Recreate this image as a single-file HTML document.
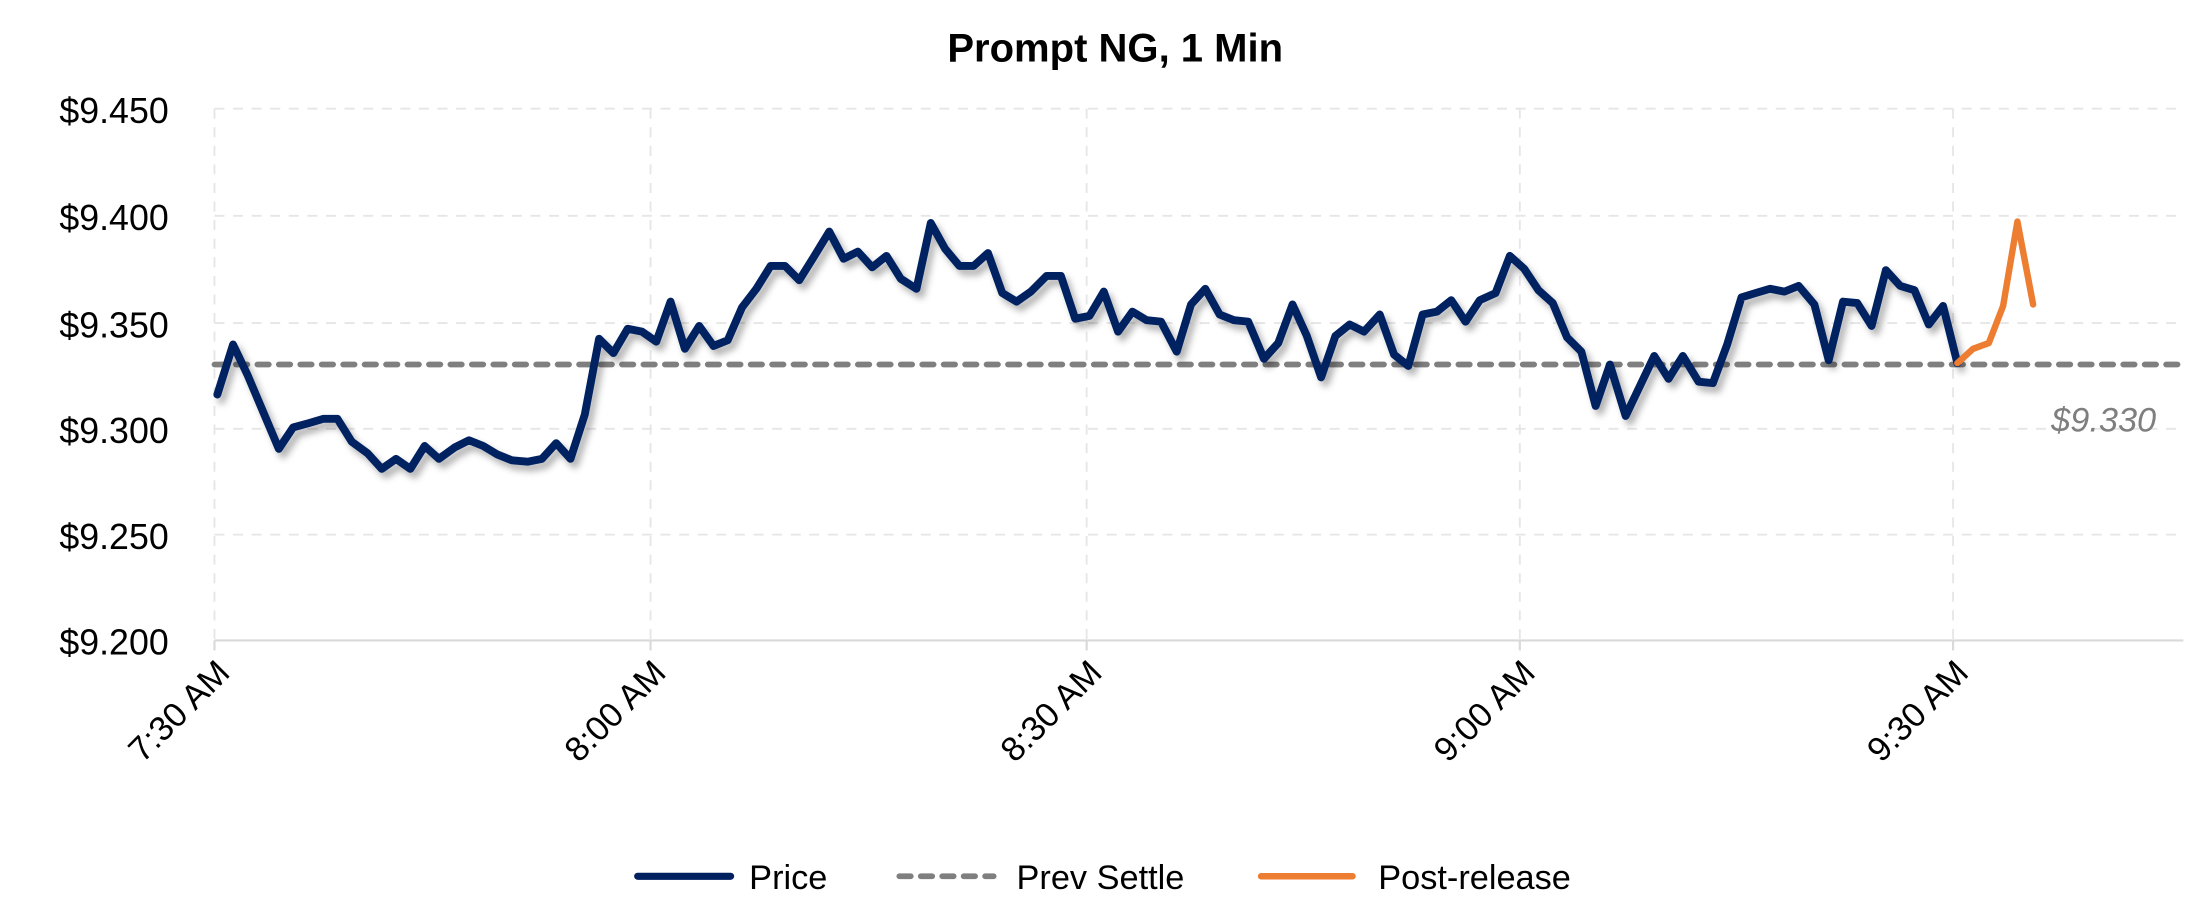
<!DOCTYPE html>
<html><head><meta charset="utf-8"><style>
html,body{margin:0;padding:0;background:#fff;}
svg{display:block;}
text{font-family:"Liberation Sans",sans-serif;}
</style></head><body>
<svg width="2209" height="902" viewBox="0 0 1545 631" preserveAspectRatio="none" xmlns="http://www.w3.org/2000/svg">
<defs>
<filter id="sh" x="-5%" y="-20%" width="110%" height="140%"><feDropShadow dx="3" dy="4" stdDeviation="2.5" flood-color="#000" flood-opacity="0.3"/></filter>
</defs>
<text x="780" y="43" text-anchor="middle" font-size="28" font-weight="bold">Prompt NG, 1 Min</text>
<g stroke="#e6e6e6" stroke-width="1.3" stroke-dasharray="7,6" fill="none">
<line x1="150" y1="76" x2="1527" y2="76"/>
<line x1="150" y1="151" x2="1527" y2="151"/>
<line x1="150" y1="226" x2="1527" y2="226"/>
<line x1="150" y1="300" x2="1527" y2="300"/>
<line x1="150" y1="374" x2="1527" y2="374"/>
<line x1="150" y1="76" x2="150" y2="448"/>
<line x1="455" y1="76" x2="455" y2="448"/>
<line x1="760" y1="76" x2="760" y2="448"/>
<line x1="1063" y1="76" x2="1063" y2="448"/>
<line x1="1366" y1="76" x2="1366" y2="448"/>
</g>
<line x1="150" y1="448" x2="1527" y2="448" stroke="#d9d9d9" stroke-width="1.5"/>
<g stroke="#d9d9d9" stroke-width="1.5">
<line x1="150" y1="448" x2="150" y2="455"/><line x1="455" y1="448" x2="455" y2="455"/><line x1="760" y1="448" x2="760" y2="455"/><line x1="1063" y1="448" x2="1063" y2="455"/><line x1="1366" y1="448" x2="1366" y2="455"/>
</g>
<g font-size="25" text-anchor="end" fill="#000">
<text x="118" y="86">$9.450</text>
<text x="118" y="161">$9.400</text>
<text x="118" y="236">$9.350</text>
<text x="118" y="310">$9.300</text>
<text x="118" y="384">$9.250</text>
<text x="118" y="458">$9.200</text>
</g>
<g font-size="24" text-anchor="end" fill="#000">
<text transform="translate(162,472) rotate(-45)">7:30 AM</text>
<text transform="translate(467,472) rotate(-45)">8:00 AM</text>
<text transform="translate(772,472) rotate(-45)">8:30 AM</text>
<text transform="translate(1075,472) rotate(-45)">9:00 AM</text>
<text transform="translate(1378,472) rotate(-45)">9:30 AM</text>
</g>
<line x1="150" y1="255" x2="1527" y2="255" stroke="#7f7f7f" stroke-width="4" stroke-dasharray="8,7" stroke-linecap="round"/>
<text x="1508" y="302" text-anchor="end" font-size="24" font-style="italic" fill="#7f7f7f">$9.330</text>
<polyline filter="url(#sh)" fill="none" stroke="#002060" stroke-width="5.5" stroke-linejoin="round" stroke-linecap="round" points="152,276 163,241 173,262 184,288 195,314 205,299 216,296 226,293 236,293 246,309 257,317 267,328 277,321 287,328 297,312 307,321 318,313 328,308 338,312 348,318 358,322 369,323 379,321 389,310 399,321 409,290 419,237 429,247 439,230 449,232 459,239 469,211 479,244 489,228 499,242 509,238 519,215 529,202 539,186 549,186 559,196 569,180 580,162 590,181 600,176 610,187 620,179 630,195 641,202 651,156 661,174 671,186 681,186 691,177 701,205 711,211 721,204 732,193 742,193 752,223 762,221 772,204 782,232 792,218 802,224 812,225 823,246 833,213 843,202 853,220 863,224 873,225 884,251 894,240 904,213 914,235 924,264 934,235 944,227 954,232 965,220 975,248 985,256 995,220 1005,218 1015,210 1025,225 1035,210 1046,205 1056,179 1066,188 1076,203 1086,212 1096,236 1106,246 1116,284 1126,255 1137,291 1147,270 1157,249 1167,265 1177,249 1188,267 1198,268 1208,241 1218,208 1228,205 1238,202 1248,204 1258,200 1269,213 1279,252 1289,211 1299,212 1309,228 1319,189 1329,200 1339,203 1349,227 1359,214 1369,254"/>
<polyline fill="none" stroke="#ED7D31" stroke-width="4.5" stroke-linejoin="round" stroke-linecap="round" points="1369,254 1380,244 1391,240 1401,214 1411,155 1422,213"/>
<g font-size="24" fill="#000">
<line x1="446" y1="613" x2="511" y2="613" stroke="#002060" stroke-width="5" stroke-linecap="round"/>
<text x="524" y="622">Price</text>
<line x1="629" y1="613" x2="695" y2="613" stroke="#7f7f7f" stroke-width="4" stroke-dasharray="8,7" stroke-linecap="round"/>
<text x="711" y="622">Prev Settle</text>
<line x1="882" y1="613" x2="946" y2="613" stroke="#ED7D31" stroke-width="4.5" stroke-linecap="round"/>
<text x="964" y="622">Post-release</text>
</g>
</svg>
</body></html>
